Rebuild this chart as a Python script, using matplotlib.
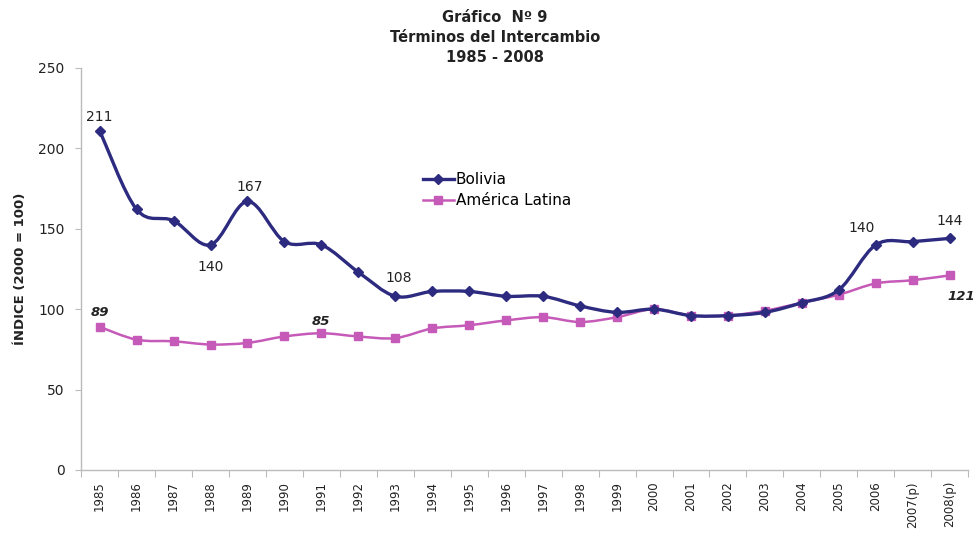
import matplotlib
matplotlib.use('Agg')
import matplotlib.pyplot as plt
from matplotlib.path import Path
from matplotlib.patches import PathPatch
from matplotlib.lines import Line2D

plt.rcParams['font.family'] = ['DejaVu Sans']

years = ['1985', '1986', '1987', '1988', '1989', '1990', '1991', '1992', '1993',
         '1994', '1995', '1996', '1997', '1998', '1999', '2000', '2001', '2002',
         '2003', '2004', '2005', '2006', '2007(p)', '2008(p)']
bolivia = [211, 162, 155, 140, 167, 142, 140, 123, 108, 111, 111, 108,
           108, 102, 98, 100, 96, 96, 98, 104, 112, 140, 142, 144]
america_latina = [89, 81, 80, 78, 79, 83, 85, 83, 82, 88, 90, 93,
                  95, 92, 95, 100, 96, 96, 99, 104, 109, 116, 118, 121]

# labelled points: (index, offset in pixels)
bol_labels = [(0, (0, 14)), (3, (0, -22)), (4, (2, 14)), (8, (3, 18)),
              (21, (-14, 17)), (23, (0, 17))]
al_labels = [(0, (0, 14)), (6, (0, 12)), (23, (12, -21))]

BOL_COLOR = '#2d2b80'
AL_COLOR = '#c65ab8'


def smooth_path(x, y):
    # excel-like smoothed line: catmull-rom as cubic bezier segments
    verts = [(x[0], y[0])]
    codes = [Path.MOVETO]
    n = len(x)
    for i in range(n - 1):
        xa, ya = (x[i - 1], y[i - 1]) if i > 0 else (x[i], y[i])
        xb, yb = (x[i + 2], y[i + 2]) if i + 2 < n else (x[i + 1], y[i + 1])
        c1 = (x[i] + (x[i + 1] - xa) / 6., y[i] + (y[i + 1] - ya) / 6.)
        c2 = (x[i + 1] - (xb - x[i]) / 6., y[i + 1] - (yb - y[i]) / 6.)
        verts += [c1, c2, (x[i + 1], y[i + 1])]
        codes += [Path.CURVE4] * 3
    return Path(verts, codes)


fig = plt.figure(figsize=(9.78, 5.34), dpi=100)
ax = fig.add_axes([0.083, 0.12, 0.907, 0.7527])

x = list(range(len(years)))

ax.add_patch(PathPatch(smooth_path(x, america_latina), fill=False,
                       edgecolor=AL_COLOR, lw=1.8, zorder=2))
ax.plot(x, america_latina, linestyle='none', marker='s', ms=5.5,
        color=AL_COLOR, zorder=3)
ax.add_patch(PathPatch(smooth_path(x, bolivia), fill=False,
                       edgecolor=BOL_COLOR, lw=2.4, zorder=4))
ax.plot(x, bolivia, linestyle='none', marker='D', ms=5,
        color=BOL_COLOR, zorder=5)

for i, off in bol_labels:
    ax.annotate(str(bolivia[i]), (x[i], bolivia[i]), xytext=off,
                textcoords='offset pixels', ha='center', va='center',
                fontsize=10, color='#222222')
for i, off in al_labels:
    ax.annotate(str(america_latina[i]), (x[i], america_latina[i]), xytext=off,
                textcoords='offset pixels', ha='center', va='center',
                fontsize=9.5, color='#222222', fontweight='bold', style='italic')

ax.set_xlim(-0.5, len(years) - 0.5)
ax.set_ylim(0, 250)
ax.set_yticks([0, 50, 100, 150, 200, 250])
ax.tick_params(axis='y', labelsize=10, length=4, color='#bbbbbb',
               labelcolor='#222222', pad=8)
ax.set_xticks([i - 0.5 for i in range(len(years) + 1)], minor=False)
ax.set_xticklabels([])
ax.set_xticks(x, minor=True)
ax.set_xticklabels(years, minor=True, rotation=90, fontsize=8.5,
                   color='#222222')
ax.tick_params(axis='x', which='major', length=5, color='#bbbbbb')
ax.tick_params(axis='x', which='minor', length=0, pad=8)

for s in ['top', 'right']:
    ax.spines[s].set_visible(False)
for s in ['left', 'bottom']:
    ax.spines[s].set_color('#bbbbbb')
    ax.spines[s].set_linewidth(1)

ax.set_ylabel('ÍNDICE (2000 = 100)', fontsize=9.5, fontweight='bold',
              color='#222222', labelpad=8)

handles = [Line2D([], [], color=BOL_COLOR, lw=2.4, marker='D', ms=5),
           Line2D([], [], color=AL_COLOR, lw=1.8, marker='s', ms=5.5)]
ax.legend(handles, ['Bolivia', 'América Latina'], loc='upper left',
          bbox_to_anchor=(0.37, 0.775), frameon=False, fontsize=11,
          handlelength=2.0, handletextpad=0.15, labelspacing=0.4)

fig.text(0.506, 1 - 18 / 534., 'Gráfico  Nº 9', ha='center', va='center',
         fontsize=10.5, fontweight='bold', color='#222222')
fig.text(0.506, 1 - 38 / 534., 'Términos del Intercambio', ha='center',
         va='center', fontsize=10.5, fontweight='bold', color='#222222')
fig.text(0.506, 1 - 58 / 534., '1985 - 2008', ha='center', va='center',
         fontsize=10.5, fontweight='bold', color='#222222')

plt.savefig('out.png', dpi=100)
